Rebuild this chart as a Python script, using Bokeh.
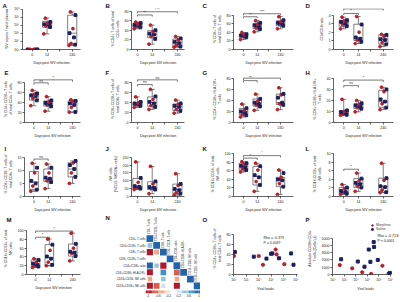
import numpy as np
from bokeh.plotting import figure
from bokeh.layouts import column, row
from bokeh.models import (ColumnDataSource, FixedTicker, Label, Legend, LegendItem,
                          LinearColorMapper, Range1d, Title, CustomJSTickFormatter)
from bokeh.core.properties import value
from bokeh.transform import transform
from bokeh.embed import file_html
from bokeh.resources import INLINE

# ---------------- data ----------------
DAYS = ["0", "14", "240"]
GROUPS = ["M", "S", "M", "S", "S", "M", "S", "M"]   # M = Morphine, S = Saline

# box stats per day: [min, q1, median, q3, max]
A_box = [[1e3, 1e3, 1e3, 1e3, 1e3], [8.9e4, 5.9e5, 1.35e6, 3.1e6, 8.3e6], [3.2e3, 5.0e3, 1.1e5, 1.9e7, 4.8e7]]
A_pts = [[1e3, 1e3, 1e3, 1e3, 1e3, 1e3, 1e3, 1e3],
         [8.9e4, 6.3e5, 8.9e5, 1.26e6, 1.4e6, 2.0e6, 2.8e6, 7.9e6],
         [3.2e3, 4.0e3, 5.6e3, 3.2e4, 1.1e5, 4.0e5, 2.0e7, 4.8e7]]
A_yticks = [1e3, 1e4, 1e5, 1e6, 1e7, 1e8]

B_box = [[43, 46.3, 50.7, 54.5, 57], [11.1, 24.5, 31.6, 39.2, 50.7], [4.8, 6.1, 14.4, 22, 27.2]]
B_pts = [[43, 46, 48, 50, 51, 53, 55, 57], [11, 22, 27, 31, 33, 37, 40, 50.7], [4.8, 6, 9, 13, 16, 20, 23, 27]]
B_sig = [(0, 1, 71.8, "**"), (0, 2, 78.5, "***")]

C_box = [[23, 28.2, 32, 35.2, 39.5], [41, 48, 54.4, 60.8, 67.2], [48, 55, 60.8, 66.6, 76.4]]
C_pts = [[23, 28, 30, 31, 33, 34, 35.5, 39.5], [41, 47, 50, 54, 56, 59, 62, 67], [48, 55, 58, 60, 62, 65, 68, 76]]
C_sig = [(0, 1, 76, "**"), (0, 2, 83, "***")]

D_box = [[2.4, 2.69, 3.11, 3.39, 3.75], [0.69, 1.05, 1.33, 2.93, 3.82], [0.34, 0.62, 1.15, 1.69, 1.76]]
D_pts = [[2.4, 2.7, 2.9, 3.0, 3.2, 3.3, 3.4, 3.75], [0.69, 0.9, 1.1, 1.25, 1.4, 2.0, 2.9, 3.82],
         [0.34, 0.6, 0.8, 1.1, 1.2, 1.5, 1.7, 1.76]]
D_sig = [(0, 1, 4.18, "*"), (0, 2, 4.71, "*")]

E_box = [[33.5, 44.6, 53, 57, 64], [22.5, 33, 38, 43, 51.5], [20.5, 21, 36.8, 43, 45]]
E_pts = [[33.5, 44, 48, 52, 54, 56, 58, 64], [22.5, 32, 35, 37, 39, 41, 44, 51.5], [20.5, 21, 30, 35, 38, 42, 43, 45]]
E_sig = [(0, 1, 79, "ns"), (0, 2, 85, "*")]

F_box = [[30, 33.5, 37, 40, 51], [26, 32, 40, 51, 66], [18.6, 24, 32, 37, 44.6]]
F_pts = [[30, 33, 35, 36, 38, 39, 41, 51], [26, 31, 34, 38, 41, 46, 52, 66], [18.6, 23, 26, 31, 33, 36, 38, 44.6]]
F_sig = [(0, 1, 75.6, "ns"), (0, 2, 85, "ns")]

G_box = [[10, 13.7, 19.4, 25.4, 33.4], [22, 29.8, 35, 42.7, 51.5], [23.4, 32.8, 36, 51.5, 63]]
G_pts = [[10, 13, 15, 18, 20, 22, 26, 33.4], [22, 29, 32, 34, 36, 39, 43, 51.5], [23.4, 32, 34, 36, 45, 50, 52, 63]]
G_sig = [(0, 1, 76, "**"), (0, 2, 80.5, "*")]

H_box = [[6.5, 7.2, 9.4, 10.7, 21], [9.7, 12.7, 15, 17, 20], [11.7, 13.8, 19, 29.2, 32]]
H_pts = [[6.5, 7, 7.5, 8.5, 9.5, 10, 11, 21], [9.7, 12.5, 13.5, 14.5, 15.5, 16.5, 17.5, 20],
         [11.7, 13.5, 17, 19, 21, 28, 30, 32]]
H_sig = [(0, 1, 33.5, "ns"), (0, 2, 38.5, "*")]

I_box = [[2, 2.7, 5.5, 9.6, 12.7], [3, 5.7, 6.9, 10.5, 12.4], [5, 7.5, 10.5, 12.9, 13.6]]
I_pts = [[2, 2.6, 4, 5, 6, 9, 11, 12.7], [3, 5.5, 6, 6.8, 7.2, 9, 11, 12.4], [5, 7.5, 9, 10.5, 12, 12.8, 13.6]]
I_sig = [(0, 1, 14.3, "ns")]

J_box = [[44, 50, 64, 115, 220], [18, 44, 58, 94, 192], [8, 18, 44, 79, 145]]
J_pts = [[44, 50, 55, 62, 66, 90, 118, 220], [18, 44, 50, 56, 60, 80, 96, 192], [8, 18, 25, 40, 48, 70, 80, 145]]
J_sig = []

K_box = [[57.5, 62, 70.7, 78, 81.6], [12, 27, 47, 70.7, 78], [5, 23, 39, 45, 62]]
K_pts = [[57.5, 62, 65, 69, 72, 75, 78, 81.6], [12, 27, 35, 45, 50, 62, 71, 78], [5, 23, 30, 38, 40, 45, 55, 62]]
K_sig = [(0, 1, 90, "*"), (0, 2, 96, "*")]

L_box = [[0.5, 0.65, 1.2, 2.1, 2.8], [1.2, 2.1, 3.05, 4.2, 5.5], [0.9, 1.0, 2.3, 4.3, 7.8]]
L_pts = [[0.5, 0.65, 0.9, 1.1, 1.3, 1.8, 2.1, 2.8], [1.2, 2.1, 2.5, 2.9, 3.2, 3.7, 4.2, 5.5],
         [0.9, 1.0, 1.5, 2.2, 2.4, 3.8, 4.3, 7.8]]
L_sig = [(0, 1, 6.4, "*")]

M_box = [[16, 17.8, 23.5, 33.3, 36], [20, 20, 38.5, 68, 80.7], [31, 42, 51, 69.5, 94]]
M_pts = [[16, 18, 20, 22, 25, 28, 33, 36], [20, 22, 28, 36, 41, 55, 68, 80.7], [31, 42, 48, 50, 52, 60, 70, 94]]
M_sig = [(0, 1, 85, "*"), (0, 2, 99, "*")]

# correlation matrix (lower triangle)
N_vars = ["CD4+ T cells", "CD4+CD28+ T cells", "CD8+ T cells", "CD8+ CD28+ T cells",
          "CD4+/CD8+ ratio", "CD4+CD38+ HLA-DR+", "CD16+CD56- NK cells", "CD16+CD56+ NK cells"]
N_r = [[1.0],
       [0.45, 1.0],
       [-0.85, -0.45, 1.0],
       [0.0, 0.0, 0.0, 1.0],
       [0.8, 0.35, -0.85, 0.0, 1.0],
       [-0.8, 0.0, 0.7, 0.0, -0.75, 1.0],
       [-0.4, 0.0, 0.4, 0.0, -0.4, 0.0, 1.0],
       [-0.8, -0.75, 0.3, 0.0, -0.8, 0.0, 0.0, 1.0]]
N_cbar_ticks = [-1, -0.6, -0.2, 0.2, 0.6, 1]

O_red_x = [1.0e2, 1.0e4, 2.2e4, 2.3e5, 2.75e5, 1.15e6]
O_red_y = [36.8, 36.8, 19.4, 49.7, 40, 20.6]
O_navy_x = [1.2e2, 4.0e3, 4.2e4, 9.8e4, 1.26e5, 4.3e5, 4.0e6, 6.3e6]
O_navy_y = [44.5, 35.5, 31.6, 41.3, 41.9, 32.3, 41.9, 19.4]

P_red_x = [3.9e2, 4.7e3, 3.5e4, 2.1e5, 2.0e6]
P_red_y = [1295, 848, 312, 89, 1205]
P_navy_x = [5.1e2, 1.45e4, 5.5e4, 1.3e5, 1.8e5, 3.5e5, 3.8e5, 7.9e5, 7.1e6, 8.9e6]
P_navy_y = [2098, 1786, 1071, 3437, 1741, 4464, 3795, 2009, 89, 223]

VL_ticks = [1e2, 1e3, 1e4, 1e5, 1e6, 1e7]

# ---------------- layout constants ----------------
FONT = "Liberation Sans"
RED = "#b5212b"
NAVY = "#1b1f5e"
INK = "#222222"
BOXC = "#4a4a4a"
# (row start, row end, frame top, frame bottom) in page pixels
ROWS = [(0, 67, 8, 52), (67, 143, 74, 122), (143, 214, 150, 197), (214, 302, 221, 274)]
COLS = [(0, 22, 80), (100, 131, 184), (200, 233, 293), (300, 333, 393)]
XR = [(0.34, 4.26), (0.6, 4.18), (0.27, 4.65), (0.3, 4.4)]
LET_X = [2, 105, 202, 305]
POS = [1, 2, 3.7]
JIT = [-0.22, 0.2, -0.08, 0.12, -0.18, 0.05, 0.22, -0.12]

POW10 = CustomJSTickFormatter(code="""
const s = {"0":"\u2070","1":"\u00b9","2":"\u00b2","3":"\u00b3","4":"\u2074","5":"\u2075",
           "6":"\u2076","7":"\u2077","8":"\u2078","9":"\u2079"};
const e = Math.round(Math.log10(tick));
return "10" + String(e).split("").map(c => s[c]).join("");
""")


def axis_style(p):
    for ax in p.axis:
        ax.axis_line_width = 0.7
        ax.axis_line_color = INK
        ax.major_tick_line_width = 0.7
        ax.major_tick_line_color = INK
        ax.major_tick_out = 2
        ax.major_tick_in = 0
        ax.minor_tick_out = 2
        ax.minor_tick_in = 0
        ax.minor_tick_line_width = 0.7
        ax.minor_tick_line_color = INK
        ax.major_label_text_font = FONT
        ax.major_label_text_font_size = "3.6px"
        ax.major_label_text_color = INK
        ax.major_label_standoff = 1
        ax.axis_label_text_font = FONT
        ax.axis_label_text_font_size = "3.5px"
        ax.axis_label_text_font_style = "normal"
        ax.axis_label_text_color = INK
        ax.axis_label_standoff = 2
    p.grid.visible = False
    p.outline_line_color = None


def new_fig(r, c, xr, yr, txt, x_log=False, y_log=False, fl=None, fr=None):
    rs, re, T, B = ROWS[r]
    cs, cl, cr = COLS[c]
    fl = cl if fl is None else fl
    fr = cr if fr is None else fr
    p = figure(width=100, height=re - rs, x_range=Range1d(*xr), y_range=Range1d(*yr),
               x_axis_type="log" if x_log else "linear", y_axis_type="log" if y_log else "linear",
               output_backend="svg", toolbar_location=None,
               min_border_left=fl - cs, min_border_right=cs + 100 - fr,
               min_border_top=T - rs, min_border_bottom=re - B,
               background_fill_color="white", border_fill_color="white")
    p.title = Title(text=txt, align="left", offset=LET_X[c] - fl, standoff=0,
                    text_font=FONT, text_font_size="6px", text_font_style="bold",
                    text_color="#111111")
    return p, fl, B


def box_panel(txt, r, c, box, pts, sig, yticks, ytop_px, ylabel, log=False):
    rs, re, T, B = ROWS[r]
    y0, vt = yticks[0], yticks[-1]
    if log:
        e0, et = np.log10(y0), np.log10(vt)
        ye = 10 ** (e0 + (et - e0) * (B - T) / (B - ytop_px))
    else:
        ye = y0 + (vt - y0) * (B - T) / (B - ytop_px)
    p, fl, B = new_fig(r, c, XR[c], (y0, ye), txt, y_log=log)

    lo = [b[0] for b in box]; q1 = [b[1] for b in box]; md = [b[2] for b in box]
    q3 = [b[3] for b in box]; hi = [b[4] for b in box]
    src = ColumnDataSource(dict(x=POS, lo=lo, q1=q1, md=md, q3=q3, hi=hi,
                                xl=[x - 0.31 for x in POS], xr=[x + 0.31 for x in POS],
                                cl=[x - 0.16 for x in POS], cr=[x + 0.16 for x in POS]))
    p.segment("x", "q3", "x", "hi", source=src, line_color=BOXC, line_width=0.7)
    p.segment("x", "lo", "x", "q1", source=src, line_color=BOXC, line_width=0.7)
    p.segment("cl", "hi", "cr", "hi", source=src, line_color=BOXC, line_width=0.7)
    p.segment("cl", "lo", "cr", "lo", source=src, line_color=BOXC, line_width=0.7)
    p.vbar(x="x", width=0.62, bottom="q1", top="q3", source=src, fill_color=None,
           line_color=BOXC, line_width=0.7)
    p.segment("xl", "md", "xr", "md", source=src, line_color=BOXC, line_width=0.7)

    xs, ys, cols, mks = [], [], [], []
    for d, vals in enumerate(pts):
        for i, v in enumerate(vals):
            xs.append(POS[d] + JIT[i % len(JIT)] * (1.6 if d == 0 and log else 1.0))
            ys.append(v)
            g = GROUPS[i % len(GROUPS)]
            cols.append(RED if g == "M" else NAVY)
            mks.append("circle" if g == "M" else "square")
    p.scatter(x=xs, y=ys, marker=mks, size=2.8, fill_color=cols, line_color=cols)

    span = ye - y0
    for (i, j, h, lab) in sig:
        d = span * 0.04
        p.segment(x0=[POS[i], POS[i], POS[j]], y0=[h, h, h], x1=[POS[j], POS[i], POS[j]],
                  y1=[h, h - d, h - d], line_color=INK, line_width=0.6)
        p.text(x=[(POS[i] + POS[j]) / 2], y=[h + span * 0.005], text=[lab],
               text_font=value(FONT), text_font_size="4px" if lab != "ns" else "3.5px",
               text_align="center", text_baseline="bottom", text_color=INK)

    p.xaxis.ticker = FixedTicker(ticks=POS, minor_ticks=[2.85])
    p.xaxis.major_label_overrides = {POS[0]: DAYS[0], POS[1]: DAYS[1], POS[2]: DAYS[2]}
    p.xaxis.axis_label = "Days post SIV infection"
    p.yaxis.ticker = FixedTicker(ticks=yticks)
    if log:
        p.yaxis.formatter = POW10
    p.yaxis.bounds = (y0, vt)
    p.yaxis.axis_label = ylabel
    axis_style(p)
    return p


fA = box_panel("A", 0, 0, A_box, A_pts, [], A_yticks, 9, "SIV copies / ml of plasma", log=True)
fB = box_panel("B", 0, 1, B_box, B_pts, B_sig, [0, 20, 40, 60, 80], 10.7, "% CD4+ T cells of total\nCD3+ cells")
fC = box_panel("C", 0, 2, C_box, C_pts, C_sig, [0, 20, 40, 60, 80], 15, "% CD8+ T cells of\ntotal CD3+ T cells")
fD = box_panel("D", 0, 3, D_box, D_pts, D_sig, [0, 1, 2, 3, 4], 15, "CD4/CD8 ratio")
fE = box_panel("E", 1, 0, E_box, E_pts, E_sig, [0, 20, 40, 60, 80], 81, "% CD4+ CD28+ T cells\nof total CD4+ T cells")
fF = box_panel("F", 1, 1, F_box, F_pts, F_sig, [0, 20, 40, 60, 80], 81, "% CD8+ CD28+ T cells of\ntotal CD8+ T cells")
fG = box_panel("G", 1, 2, G_box, G_pts, G_sig, [0, 20, 40, 60, 80], 77, "% CD4+ CD38+ HLA-DR+\nT cells")
fH = box_panel("H", 1, 3, H_box, H_pts, H_sig, [0, 10, 20, 30, 40], 77, "% CD8+ CD38+ HLA-DR+\nT cells")
fI = box_panel("I", 2, 0, I_box, I_pts, I_sig, [0, 5, 10, 15], 156, "% CD8+ CD28- T cells of\ntotal CD8+ T cells")
fJ = box_panel("J", 2, 1, J_box, J_pts, J_sig, [0, 50, 100, 150, 200, 250], 156, "NK cells\n(%CD3- NKG2A+ cells)")
fK = box_panel("K", 2, 2, K_box, K_pts, K_sig, [0, 20, 40, 60, 80, 100], 152.5, "% CD16+CD56- of total\nNK cells")
fL = box_panel("L", 2, 3, L_box, L_pts, L_sig, [0, 2, 4, 6, 8, 10], 152.5, "% CD16-CD56+ of total\nNK cells")
fM = box_panel("M", 3, 0, M_box, M_pts, M_sig, [0, 20, 40, 60, 80, 100], 229.3, "% CD16+CD56+ of total\nNK cells")

# ---------------- N: correlation heatmap ----------------
CELL = 6.75
GX0, GY0 = 146, 234.7          # page position of grid top-left
nx0 = -(GX0 - 100) / CELL
ny1 = 8 + (GY0 - 214) / CELL
fN = figure(width=100, height=88, x_range=Range1d(nx0, nx0 + 100 / CELL),
            y_range=Range1d(ny1 - 88 / CELL, ny1),
            output_backend="svg", toolbar_location=None, title_location=None,
            x_axis_location=None, y_axis_location=None, min_border=0,
            min_border_left=0, min_border_right=0, min_border_top=0, min_border_bottom=0)
fN.grid.visible = False
fN.outline_line_color = None
PAL = ["#b2182b", "#d6604d", "#f4a582", "#fddbc7", "#ffffff", "#d1e5f0", "#92c5de", "#4393c3", "#2166ac"]
mapper = LinearColorMapper(palette=PAL, low=-1, high=1)
cx, cy, cv, cs = [], [], [], []
for i, rowv in enumerate(N_r):
    for j, v in enumerate(rowv):
        if v != 0:
            cx.append(j + 0.5); cy.append(7.5 - i); cv.append(v)
            cs.append(0.45 + 0.55 * abs(v))
csrc = ColumnDataSource(dict(x=cx, y=cy, v=cv, s=cs))
fN.rect(x="x", y="y", width="s", height="s", source=csrc, fill_color=transform("v", mapper),
        line_color=None)
fN.text(x=[-0.15] * 8, y=[7.5 - i for i in range(8)], text=N_vars, text_font=value(FONT),
        text_font_size="2.9px", text_align="right", text_baseline="middle", text_color=INK)
fN.text(x=[j + 0.45 for j in range(8)], y=[8.15 - j for j in range(8)], text=N_vars,
        angle=np.pi / 2, text_font=value(FONT), text_font_size="2.7px",
        text_align="left", text_baseline="middle", text_color=INK)
gv = np.linspace(-1, 1, 41)
gsrc = ColumnDataSource(dict(v=gv, x=(gv + 1) * 4, y=np.full(len(gv), -0.39)))
fN.rect(x="x", y="y", width=8 / 40 + 0.02, height=0.4, source=gsrc,
        fill_color=transform("v", mapper), line_color=None)
fN.text(x=[0.2 + (t + 1) * 3.8 for t in N_cbar_ticks], y=[-0.75] * len(N_cbar_ticks),
        text=[str(t) for t in N_cbar_ticks], text_font=value(FONT), text_font_size="3.2px",
        text_align="center", text_baseline="top", text_color=INK)
fN.text(x=[nx0 + 5 / CELL], y=[ny1 - 3.5 / CELL], text=["N"], text_font=value(FONT),
        text_font_size="6px", text_font_style="bold", text_baseline="middle",
        text_align="left", text_color="#111111")


# ---------------- O, P: scatter ----------------
def scatter_panel(txt, c, fl, fr, xr, xbounds, yticks, ytop_px, ylabel, rx, ry, nx, ny, rho, pv, tx, ty):
    rs, re, T, B = ROWS[3]
    y0, vt = yticks[0], yticks[-1]
    ye = y0 + (vt - y0) * (B - T) / (B - ytop_px)
    p, fl, B = new_fig(3, c, xr, (y0, ye), txt, x_log=True, fl=fl, fr=fr)
    rr = p.scatter(x=rx, y=ry, marker="circle", size=3.2, fill_color=RED, line_color=RED)
    rn = p.scatter(x=nx, y=ny, marker="square", size=3.0, fill_color=NAVY, line_color=NAVY)
    p.xaxis.ticker = FixedTicker(ticks=VL_ticks)
    p.xaxis.formatter = POW10
    p.xaxis.bounds = xbounds
    p.xaxis.axis_label = "Viral loads"
    p.yaxis.ticker = FixedTicker(ticks=yticks)
    p.yaxis.bounds = (y0, vt)
    p.yaxis.axis_label = ylabel
    axis_style(p)
    for k, s in enumerate([rho, pv]):
        p.add_layout(Label(x=tx - fl, y=B - ty - 4.6 * k, x_units="screen", y_units="screen", text=s,
                           text_font=FONT, text_font_size="3.5px", text_baseline="middle",
                           text_align="left", text_color=INK))
    return p, rr, rn, fl, B


fO, _, _, _, _ = scatter_panel("O", 2, 233, 297, (10 ** 1.97, 10 ** 7.12), (10 ** 1.97, 10 ** 7.12),
                               [0, 20, 40, 60, 80], 233,
                               "% CD4+ CD28+ T cells of\ntotal CD4+ T cells",
                               O_red_x, O_red_y, O_navy_x, O_navy_y,
                               "Rho = -0.379", "P = 0.0037", 263, 237.5)
fP, rr, rn, flP, BP = scatter_panel("P", 3, 332, 398, (10 ** 1.96, 10 ** 7.7), (10 ** 1.96, 1e7),
                                    [0, 1000, 2000, 3000, 4000, 5000], 237,
                                    "Absolute CD28hi CD4+\nT cells (Cells/ µl)",
                                    P_red_x, P_red_y, P_navy_x, P_navy_y,
                                    "Rho = -0.7138", "P < 0.0001", 377, 235.5)
leg = Legend(items=[LegendItem(label="Morphine", renderers=[rr]), LegendItem(label="Saline", renderers=[rn])],
             location=(370 - flP, BP - 230.5), orientation="vertical")
leg.label_text_font = FONT
leg.label_text_font_size = "3.5px"
leg.label_height = 4
leg.glyph_height = 4
leg.glyph_width = 4
leg.label_standoff = 2
leg.spacing = 0
leg.padding = 0
leg.margin = 0
leg.border_line_color = None
leg.background_fill_alpha = 0
fP.add_layout(leg)

layout = column(row(fA, fB, fC, fD), row(fE, fF, fG, fH), row(fI, fJ, fK, fL),
                row(fM, column(fN), fO, fP))
open("out.html", "w").write(file_html(layout, INLINE))
